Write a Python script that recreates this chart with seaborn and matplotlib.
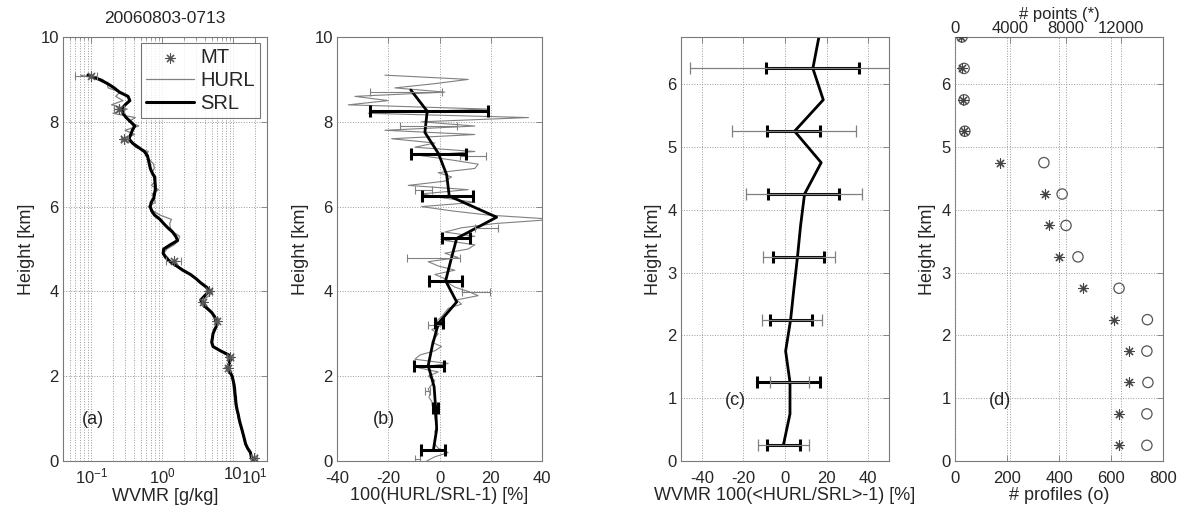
import numpy as np
import matplotlib
matplotlib.use('Agg')
import matplotlib.pyplot as plt
import seaborn as sns

# ---- high resolution profiles, every 0.1 km from 0 to 9.1 km ----
heights = np.round(np.arange(0, 9.15, 0.1), 1)

# SRL water vapour mixing ratio [g/kg]
srl = [19.0, 18.0, 17.5, 16.0, 15.0, 14.5, 14.0, 13.5, 13.0, 12.5,
       12.1, 11.8, 11.4, 11.1, 10.9, 10.8, 10.6, 10.5, 10.3, 10.0,
       9.7, 9.0, 8.3, 8.8, 9.2, 8.7, 6.6, 5.2, 5.0, 5.1,
       5.2, 5.5, 5.9, 5.7, 5.5, 5.0, 4.3, 3.7, 3.5, 4.0,
       4.55, 4.2, 3.5, 3.0, 2.5, 1.95, 1.6, 1.3, 1.12, 1.03,
       1.05, 1.3, 1.65, 1.55, 1.4, 1.2, 1.05, 0.93, 0.78, 0.71,
       0.68, 0.70, 0.76, 0.78, 0.80, 0.80, 0.79, 0.78, 0.72, 0.68,
       0.66, 0.64, 0.62, 0.56, 0.46, 0.38, 0.34, 0.36, 0.38, 0.41,
       0.36, 0.31, 0.28, 0.27, 0.30, 0.35, 0.33, 0.25, 0.21, 0.17,
       0.13, 0.09]

# 100(HURL/SRL-1) [%]
pct = [-5.0, -1.8, 3.4, -0.5, -1.8, -2.0, -1.4, -1.8, -1.0, -1.5,
       -1.8, -2.0, -2.3, -2.8, -3.0, -4.1, -3.7, -4.4, -3.0, -1.8,
       -4.4, -0.5, -8.3, 3.4, -9.6, -7.6, -1.8, 0.8, -3.0, -1.8,
       -0.5, -3.0, 0.8, -1.1, 0.8, 2.1, 3.4, 8.6, 6.7, 15.1,
       11.2, 6.0, 3.4, 2.1, -1.8, 6.0, -0.5, -4.4, 7.3, 2.1,
       11.2, 13.8, 2.1, 13.8, 2.1, 8.6, 21.6, 45.0, 19.0, 4.7,
       -7.0, 13.8, 2.1, -7.0, 11.2, -12.2, 2.1, 4.7, -0.5, 13.8,
       15.1, 4.7, -7.0, 13.8, -9.6, -1.8, -18.7, 13.8, -21.3, 13.8,
       -7.0, 34.7, -27.8, 19.0, -35.6, -20.0, -33.0, 2.1, -17.4, -1.8,
       11.2, -21.3]

hurl = np.array(srl) * (1 + np.array(pct) / 100)

# MT (sonde) points in panel (a)
mt_h = [0.07, 2.2, 2.45, 3.3, 3.75, 4.02, 4.72, 7.6, 8.3, 9.08]
mt_val = [19.5, 8.6, 9.0, 5.9, 3.8, 4.6, 1.45, 0.29, 0.245, 0.10]
mt_lo = [17.7, 8.2, 8.2, 5.6, 3.6, 4.2, 1.15, 0.26, 0.207, 0.06]
mt_hi = [22.0, 9.0, 9.8, 6.2, 4.0, 5.1, 1.86, 0.33, 0.287, 0.12]

# thin error bars on the HURL/SRL ratio, panel (b)
b_thin_h = [0.05, 1.65, 3.2, 3.99, 4.78, 5.49, 6.39, 7.2, 7.9, 8.7]
b_thin_lo = [-9.5, -5.6, -4.4, 8.6, -12.8, 13.8, -9.6, 8.0, -15.4, -27.0]
b_thin_hi = [-7.5, -3.7, 0.8, 19.7, 8.0, 23.0, -3.0, 18.0, 6.7, 0.8]

# 0.5 km bin means, panel (b)
b_bins = [0.25, 0.75, 1.25, 1.75, 2.25, 2.75, 3.25, 3.75, 4.25,
          4.75, 5.25, 5.75, 6.25, 6.75, 7.25, 7.75, 8.25, 8.75]
b_mean = [-2.4, -1.1, -1.5, -2.1, -4.4, -2.7, -0.4, 6.7, 2.4,
          4.5, 6.7, 22.3, 3.8, 2.8, -0.4, -5.7, -4.8, -11.2]
b_bar_h = [0.25, 1.25, 2.25, 3.25, 4.25, 5.25, 6.25, 7.25, 8.25]
b_bar_lo = [-7.2, -2.5, -10.0, -1.8, -4.2, 0.8, -7.0, -11.0, -27.1]
b_bar_hi = [2.1, -0.5, 1.6, 1.5, 8.6, 11.9, 13.0, 10.2, 19.0]

# campaign statistics, panels (c) and (d)
c_bins = [0.25, 0.75, 1.25, 1.75, 2.25, 2.75, 3.25,
          3.75, 4.25, 4.75, 5.25, 5.75, 6.25, 6.75]
c_mean = [-0.8, 2.4, 2.4, 0.3, 2.7, 4.3, 6.0,
          7.5, 9.4, 17.4, 4.6, 18.4, 13.4, 16.3]
c_bar_h = [0.25, 1.25, 2.25, 3.25, 4.25, 5.25, 6.25]
c_thick_lo = [-8.5, -13.3, -7.0, -5.8, -8.2, -8.5, -9.3]
c_thick_hi = [7.0, 17.0, 13.0, 18.7, 26.0, 16.6, 35.5]
c_thin_lo = [-13.0, -7.0, -11.0, -10.4, -18.6, -25.3, -45.8]
c_thin_hi = [11.5, 11.5, 18.0, 23.8, 37.0, 34.0, 55.0]

n_profiles = [738, 738, 742, 738, 740, 631, 473,
              427, 412, 342, 38, 35, 35, 27]
n_points = [11830, 11830, 12550, 12550, 11470, 9230, 7500,
            6780, 6490, 3250, 650, 600, 500, 400]

assert len(srl) == len(heights) == len(pct)

sns.set_style('white')
plt.rcParams['font.family'] = ['Liberation Sans', 'DejaVu Sans']
plt.rcParams['font.size'] = 12
plt.rcParams['mathtext.default'] = 'regular'

GRID = dict(color='#9a9a9a', linestyle=':', linewidth=0.7)
SPINE = '#7a7a7a'
GRAY = '#808080'
ASTER = (8, 2, 0)


def style_axes(ax):
    for s in ax.spines.values():
        s.set_color(SPINE)
        s.set_linewidth(0.8)
    ax.tick_params(direction='in', top=True, right=True, length=4,
                   width=0.6, color=SPINE, labelsize=12, pad=3)
    ax.tick_params(axis='x', pad=7)
    ax.tick_params(which='minor', direction='in', top=True, length=2,
                   width=0.5, color=SPINE)
    ax.set_axisbelow(True)


def hbars(ax, h, lo, hi, color, lw, cap, capw):
    lo, hi = np.array(lo), np.array(hi)
    mid = (lo + hi) / 2
    ax.errorbar(mid, h, xerr=(hi - lo) / 2, fmt='none', ecolor=color,
                elinewidth=lw, capsize=cap, capthick=capw, zorder=4)


fig = plt.figure(figsize=(11.87, 5.22), dpi=100)
pos = lambda l, r: [l / 1187, 61 / 522, (r - l) / 1187, 424 / 522]

# ---------------- (a) ----------------
ax = fig.add_axes(pos(63, 267))
style_axes(ax)
ax.set_xscale('log')
hbars(ax, mt_h, mt_lo, mt_hi, GRAY, 0.8, 3, 0.8)
sns.lineplot(x=hurl, y=heights, sort=False, estimator=None, orient='y',
             color=GRAY, lw=0.9, ax=ax, label='HURL')
sns.lineplot(x=srl, y=heights, sort=False, estimator=None, orient='y',
             color='black', lw=2.2, ax=ax, label='SRL')
sns.scatterplot(x=mt_val, y=mt_h, marker=ASTER, s=45, color='#555555',
                edgecolor='#555555', linewidth=0.8, ax=ax, label='MT', zorder=5)
ax.set_xlim(0.04, 30)
ax.set_ylim(0, 10)
ax.set_xticks([0.1, 1, 10, 20])
ax.set_xticklabels(['$10^{-1}$', '$10^{0}$', '10', '$10^{1}$'])
ax.tick_params(axis='x', pad=4)
ax.set_yticks([0, 2, 4, 6, 8, 10])
ax.grid(True, which='both', axis='x', **GRID)
ax.grid(True, which='major', axis='y', **GRID)
h, l = ax.get_legend_handles_labels()
order = [l.index('MT'), l.index('HURL'), l.index('SRL')]
leg = ax.legend([h[i] for i in order], [l[i] for i in order],
                loc='upper right', bbox_to_anchor=(0.975, 0.99), fontsize=14.5,
                frameon=True, fancybox=False, handlelength=2.4,
                borderpad=0.25, labelspacing=0.2, handletextpad=0.3,
                borderaxespad=0.1)
leg.get_frame().set_edgecolor('#555555')
leg.get_frame().set_linewidth(0.8)
ax.set_xlabel('WVMR [g/kg]', fontsize=13, labelpad=1)
ax.set_ylabel('Height [km]', fontsize=13)
ax.set_title('20060803-0713', fontsize=12.5, pad=10)
ax.text(0.075, 0.97, '(a)', fontsize=13, va='center', ha='left')

# ---------------- (b) ----------------
ax = fig.add_axes(pos(337, 542))
style_axes(ax)
sns.lineplot(x=pct, y=heights, sort=False, estimator=None, orient='y',
             color=GRAY, lw=0.8, ax=ax)
hbars(ax, b_thin_h, b_thin_lo, b_thin_hi, GRAY, 0.8, 3, 0.8)
sns.lineplot(x=b_mean, y=b_bins, sort=False, estimator=None, orient='y',
             color='black', lw=2.0, ax=ax)
hbars(ax, b_bar_h, b_bar_lo, b_bar_hi, 'black', 2.2, 4.5, 2.2)
ax.set_xlim(-40, 40)
ax.set_ylim(0, 10)
ax.set_xticks([-40, -20, 0, 20, 40])
ax.set_xticklabels(['-40', '-20', '0', '20', '40'])
ax.set_yticks([0, 2, 4, 6, 8, 10])
ax.grid(True, **GRID)
ax.set_xlabel('100(HURL/SRL-1) [%]', fontsize=13, labelpad=1)
ax.set_ylabel('Height [km]', fontsize=13)
ax.text(-26, 0.97, '(b)', fontsize=13, va='center', ha='left')

# ---------------- (c) ----------------
ax = fig.add_axes(pos(681, 889))
style_axes(ax)
sns.lineplot(x=c_mean, y=c_bins, sort=False, estimator=None, orient='y',
             color='black', lw=2.0, ax=ax)
hbars(ax, c_bar_h, c_thick_lo, c_thick_hi, 'black', 2.2, 4.5, 2.2)
hbars(ax, c_bar_h, c_thin_lo, c_thin_hi, GRAY, 0.9, 4.5, 0.9)
ax.set_xlim(-50, 50)
ax.set_ylim(0, 6.75)
ax.set_xticks([-40, -20, 0, 20, 40])
ax.set_xticklabels(['-40', '-20', '0', '20', '40'])
ax.set_yticks([0, 1, 2, 3, 4, 5, 6])
ax.grid(True, **GRID)
ax.set_xlabel('WVMR 100(<HURL/SRL>-1) [%]', fontsize=13, labelpad=1)
ax.set_ylabel('Height [km]', fontsize=13)
ax.text(-29, 0.97, '(c)', fontsize=13, va='center', ha='left')

# ---------------- (d) ----------------
ax = fig.add_axes(pos(955, 1163))
style_axes(ax)
ax.tick_params(top=False)
sns.scatterplot(x=n_profiles, y=c_bins, marker='o', s=55, facecolors='none',
                edgecolor='#555555', linewidth=0.9, ax=ax, zorder=4)
ax.set_xlim(0, 800)
ax.set_ylim(0, 6.75)
ax.set_xticks([0, 200, 400, 600, 800])
ax.set_yticks([0, 1, 2, 3, 4, 5, 6])
ax.grid(True, **GRID)
ax.set_xlabel('# profiles (o)', fontsize=13, labelpad=1)
ax.set_ylabel('Height [km]', fontsize=13)
ax.text(175, 0.97, '(d)', fontsize=13, va='center', ha='center')

axt = ax.twiny()
for s in axt.spines.values():
    s.set_visible(False)
sns.scatterplot(x=n_points, y=c_bins, marker=ASTER, s=45, color='#444444',
                edgecolor='#444444', linewidth=0.8, ax=axt, zorder=5)
axt.set_xlim(0, 15000)
axt.set_ylim(0, 6.75)
axt.set_xticks([0, 4000, 8000, 12000])
axt.tick_params(direction='in', length=4, width=0.6, color=SPINE,
                labelsize=12, pad=1)
axt.grid(True, axis='x', **GRID)
axt.set_xlabel('# points (*)', fontsize=12, labelpad=1)

fig.savefig('out.png', dpi=100)
